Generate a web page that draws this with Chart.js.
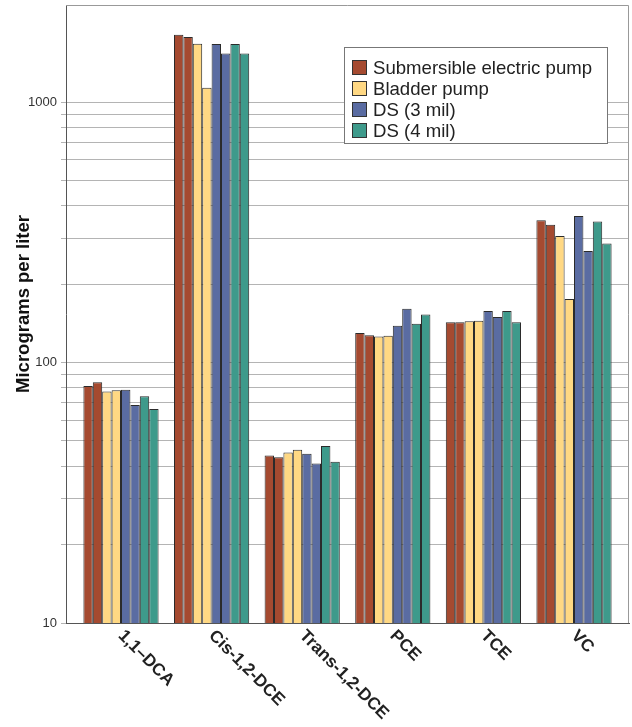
<!DOCTYPE html>
<html>
<head>
<meta charset="utf-8">
<script src="https://cdn.jsdelivr.net/npm/chart.js@4"></script>
<style>
  html, body { margin: 0; padding: 0; background: #fff; }
  #wrap { width: 632px; height: 727px; }
</style>
</head>
<body>
<div id="wrap"><canvas id="myChart" width="632" height="727"></canvas></div>
<script>
const categories = ['1,1–DCA', 'Cis-1,2-DCE', 'Trans-1,2-DCE', 'PCE', 'TCE', 'VC'];
const seriesNames = ['Submersible electric pump', 'Bladder pump', 'DS (3 mil)', 'DS (4 mil)'];
const seriesColors = ['#a54a30', '#ffd883', '#5a6ca2', '#3e9a8b'];
const yTitle = 'Micrograms per liter';

// two samples per method
const submersibleA = [81.2, 1813, 44.0, 129.8, 142.7, 351.6];
const submersibleB = [84.0, 1777, 43.3, 127.2, 142.7, 338.0];
const bladderA = [77.5, 1674, 45.2, 126.0, 144.0, 305.9];
const bladderB = [78.2, 1135, 46.3, 126.7, 144.7, 175.3];
const ds3A = [78.6, 1670, 44.7, 138.5, 157.6, 365.1];
const ds3B = [68.7, 1538, 41.0, 160.9, 149.5, 268.0];
const ds4A = [74.2, 1670, 47.8, 140.9, 157.6, 348.4];
const ds4B = [66.3, 1538, 41.6, 153.1, 142.7, 286.8];

const yTicks = [10, 20, 30, 40, 50, 60, 70, 80, 90, 100, 200, 300, 400, 500, 600, 700, 800, 900, 1000];
const yLabels = [10, 100, 1000];

const samples = [
  [submersibleA, 0], [submersibleB, 0],
  [bladderA, 1], [bladderB, 1],
  [ds3A, 2], [ds3B, 2],
  [ds4A, 3], [ds4B, 3],
];

const decor = {
  id: 'decor',
  afterDraw(chart) {
    const { ctx, chartArea: a, scales: { x } } = chart;
    ctx.save();
    // top and right frame
    ctx.strokeStyle = '#999';
    ctx.lineWidth = 1;
    ctx.beginPath();
    ctx.moveTo(a.left, a.top + 0.5);
    ctx.lineTo(a.right - 0.5, a.top + 0.5);
    ctx.lineTo(a.right - 0.5, a.bottom);
    ctx.stroke();

    // y title
    ctx.font = 'bold 18.5px "Liberation Sans", Arial, sans-serif';
    ctx.fillStyle = '#111';
    ctx.textAlign = 'center';
    ctx.textBaseline = 'middle';
    ctx.save();
    ctx.translate(24, 304);
    ctx.rotate(-Math.PI / 2);
    ctx.fillText(yTitle, 0, 0);
    ctx.restore();

    // slanted category labels
    ctx.font = 'bold 17.3px "Liberation Sans", Arial, sans-serif';
    ctx.fillStyle = '#222';
    ctx.textAlign = 'left';
    ctx.textBaseline = 'top';
    categories.forEach((c, i) => {
      const px = x.getPixelForValue(i);
      ctx.save();
      ctx.translate(px + 6, a.bottom + 4);
      ctx.rotate(Math.PI / 4);
      ctx.fillText(c, 0, 0);
      ctx.restore();
    });

    // legend box
    ctx.fillStyle = '#fff';
    ctx.fillRect(344.5, 47.5, 263, 96);
    ctx.strokeStyle = '#777';
    ctx.strokeRect(344.5, 47.5, 263, 96);
    ctx.font = '18.6px "Liberation Sans", Arial, sans-serif';
    ctx.textBaseline = 'middle';
    seriesNames.forEach((n, i) => {
      const cy = 67.5 + i * 21;
      ctx.fillStyle = seriesColors[i];
      ctx.fillRect(352.5, cy - 7, 14, 14);
      ctx.strokeStyle = '#333';
      ctx.strokeRect(352.5, cy - 7, 14, 14);
      ctx.fillStyle = '#222';
      ctx.fillText(n, 373, cy + 1);
    });
    ctx.restore();
  }
};

new Chart(document.getElementById('myChart'), {
  type: 'bar',
  data: {
    datasets: samples.map(([vals, s]) => ({
      label: seriesNames[s],
      data: vals.map((v, i) => ({ x: i, y: v })),
      backgroundColor: seriesColors[s],
      borderColor: '#2b2b2b',
      borderWidth: 1,
      categoryPercentage: 0.83,
      barPercentage: 1,
    })),
  },
  options: {
    responsive: false,
    animation: false,
    devicePixelRatio: 1,
    layout: { padding: { top: 5, right: 3, left: 0, bottom: 0 } },
    plugins: {
      legend: { display: false },
      tooltip: { enabled: false },
    },
    scales: {
      x: {
        type: 'linear',
        offset: false,
        min: -0.607,
        max: 5.607,
        afterBuildTicks(scale) {
          scale.ticks = categories.map((c, i) => ({ value: i }));
        },
        ticks: { display: false },
        grid: { display: false },
        border: { display: true, color: '#555' },
        afterFit(scale) {
          scale.height = 104;
          scale.paddingLeft = 0;
          scale.paddingRight = 0;
        },
      },
      y: {
        type: 'logarithmic',
        min: 10,
        max: 2360,
        afterBuildTicks(scale) {
          scale.ticks = yTicks.map(v => ({ value: v }));
        },
        afterFit(scale) {
          scale.width = 66;
          scale.paddingTop = 0;
          scale.paddingBottom = 0;
        },
        ticks: {
          autoSkip: false,
          padding: 4,
          color: '#333',
          font: { family: '"Liberation Sans", Arial, sans-serif', size: 13 },
          callback: v => (yLabels.includes(v) ? String(v) : ''),
        },
        grid: { color: '#b4b4b4', tickLength: 5 },
        border: { display: true, color: '#555' },
      },
    },
  },
  plugins: [decor],
});
</script>
</body>
</html>
